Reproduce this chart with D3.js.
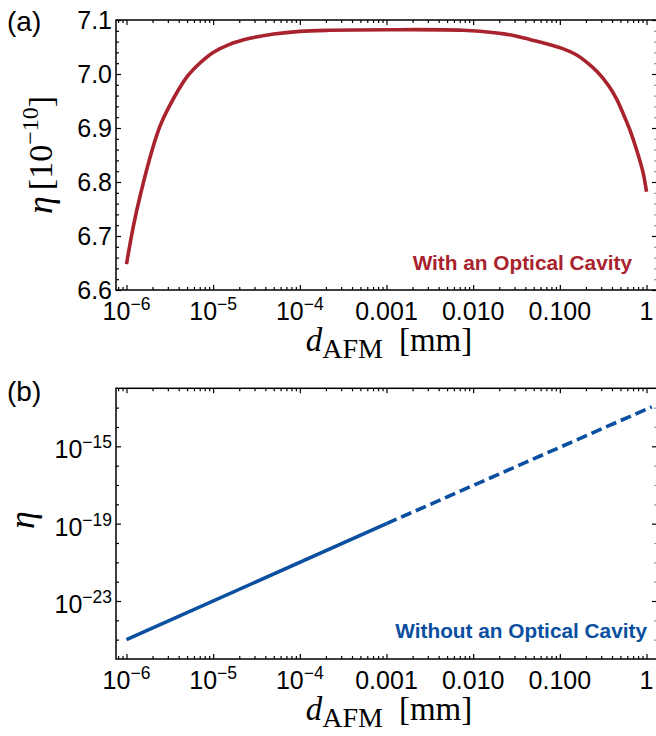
<!DOCTYPE html>
<html><head><meta charset="utf-8">
<script src="https://cdn.jsdelivr.net/npm/d3@7"></script>
<style>body{margin:0;background:#fff} svg{display:block}</style>
</head><body>
<svg id="c" width="656" height="736"></svg>
<script>
// ---- data ----
const dA   = [1e-6, 1.2e-6, 1.44e-6, 2e-6, 2.43e-6, 3e-6, 5e-6, 7e-6, 1e-5, 1.5e-5, 2.65e-5, 5e-5, 1e-4, 2.2e-4, 1e-3, 7.6e-3, 0.0188, 0.03, 0.045, 0.108, 0.153, 0.2, 0.267, 0.371, 0.454, 0.577, 0.641, 0.787, 0.914, 1.0];
const etaA = [6.648, 6.718, 6.775, 6.862, 6.903, 6.935, 6.995, 7.020, 7.040, 7.054, 7.066, 7.074, 7.079, 7.081, 7.082, 7.081, 7.076, 7.071, 7.064, 7.047, 7.036, 7.023, 7.005, 6.977, 6.953, 6.915, 6.897, 6.854, 6.817, 6.782];
const dBsolid   = [1e-6, 1e-3];
const etaBsolid = [1e-25, 1e-19];
const dBdash    = [1e-3, 1.15];
const etaBdash  = [1e-19, 1.1e-13];

const xMajorTicks  = [1e-6, 1e-5, 1e-4, 1e-3, 1e-2, 1e-1, 1];
const xTickBase    = ["10", "10", "10", "0.001", "0.010", "0.100", "1"];
const xTickExp     = ["−6", "−5", "−4", "", "", "", ""];
const yTicksA      = [6.6, 6.7, 6.8, 6.9, 7.0, 7.1];
const yTickLabelsA = ["6.6", "6.7", "6.8", "6.9", "7.0", "7.1"];
const yTicksB      = [1e-23, 1e-19, 1e-15];
const yTickBaseB   = ["10", "10", "10"];
const yTickExpB    = ["−23", "−19", "−15"];

const RED = "#a8232d", BLUE = "#0a4fa0";
const SANS = "'Liberation Sans', Arial, sans-serif";
const SERIF = "'Liberation Serif', 'Times New Roman', serif";

const svg = d3.select("#c");
const X0 = 116, X1 = 657;
const x = d3.scaleLog().domain([Math.pow(10, -6.121), Math.pow(10, 0.121)]).range([X0, X1]);

// minor x ticks
const xDom = x.domain();
const xMinor = [];
for (let e = -7; e <= 0; e++) for (let m = 2; m <= 9; m++) {
  const v = m * Math.pow(10, e);
  if (v >= xDom[0] && v <= xDom[1]) xMinor.push(v);
}

function frameTicks(top, bottom, y, yMaj, yMin) {
  const g = svg.append("g");
  const ax = (gen, tx, ty) => {
    const a = g.append("g").attr("transform", `translate(${tx},${ty})`).call(gen);
    a.select(".domain").remove();
    a.selectAll("line").attr("stroke", "#000").attr("stroke-width", 1.2);
    return a;
  };
  ax(d3.axisBottom(x).tickValues(xMajorTicks).tickSize(-5).tickFormat(""), 0, bottom);
  ax(d3.axisBottom(x).tickValues(xMinor).tickSize(-3).tickFormat(""), 0, bottom);
  ax(d3.axisTop(x).tickValues(xMajorTicks).tickSize(-5).tickFormat(""), 0, top);
  ax(d3.axisTop(x).tickValues(xMinor).tickSize(-3).tickFormat(""), 0, top);
  ax(d3.axisLeft(y).tickValues(yMaj).tickSize(-5).tickFormat(""), X0, 0);
  ax(d3.axisLeft(y).tickValues(yMin).tickSize(-3).tickFormat(""), X0, 0);
  ax(d3.axisRight(y).tickValues(yMaj).tickSize(-5).tickFormat(""), X1, 0);
  ax(d3.axisRight(y).tickValues(yMin).tickSize(-3).tickFormat(""), X1, 0)
    .selectAll("line").attr("stroke", "#999");
  g.append("rect").attr("x", X0).attr("y", top).attr("width", X1 - X0).attr("height", bottom - top)
    .attr("fill", "none").attr("stroke", "#000").attr("stroke-width", 1.5);

  // x tick labels
  xMajorTicks.forEach((v, i) => {
    const t = svg.append("text").attr("x", x(v)).attr("y", bottom + 30)
      .attr("text-anchor", "middle").attr("font-family", SANS).attr("font-size", 25);
    t.append("tspan").text(xTickBase[i]);
    if (xTickExp[i]) t.append("tspan").attr("font-size", 17.5).attr("dy", -10).text(xTickExp[i]);
  });
  // x title
  const tt = svg.append("text").attr("x", 389).attr("y", bottom + 61)
    .attr("text-anchor", "middle").attr("font-family", SERIF).attr("font-size", 33);
  tt.append("tspan").attr("font-style", "italic").text("d");
  tt.append("tspan").attr("font-size", 28).attr("dy", 7).text("AFM");
  tt.append("tspan").attr("dy", -7).attr("dx", 16).text("[mm]");
}

// ---------- Panel (a) ----------
const topA = 20, botA = 290;
const yA = d3.scaleLinear().domain([6.6, 7.1]).range([botA, topA]);
const yMinA = d3.range(6.62, 7.1, 0.02).filter(v => Math.abs(Math.round(v * 10) - v * 10) > 0.05);
frameTicks(topA, botA, yA, yTicksA, yMinA);

yTicksA.forEach((v, i) => {
  svg.append("text").attr("x", 112).attr("y", yA(v) + 9).attr("text-anchor", "end")
    .attr("font-family", SANS).attr("font-size", 25).text(yTickLabelsA[i]);
});

const lineA = d3.line().x((d, i) => x(dA[i])).y((d, i) => yA(etaA[i])).curve(d3.curveCatmullRom.alpha(0.5));
svg.append("path").attr("d", lineA(dA)).attr("fill", "none").attr("stroke", RED)
  .attr("stroke-width", 3.6);

svg.append("text").attr("x", 632).attr("y", 270).attr("text-anchor", "end")
  .attr("font-family", SANS).attr("font-weight", "bold").attr("font-size", 20.8)
  .attr("fill", RED).text("With an Optical Cavity");

// y title (a)
const ytA = svg.append("text").attr("transform", "translate(52,155) rotate(-90)")
  .attr("text-anchor", "middle").attr("font-family", SERIF).attr("font-size", 34);
ytA.append("tspan").attr("font-style", "italic").attr("font-size", 36).text("η");
ytA.append("tspan").attr("dx", 6).text("[10");
ytA.append("tspan").attr("font-size", 24).attr("dy", -14).text("−10");
ytA.append("tspan").attr("dy", 14).text("]");

svg.append("text").attr("x", 7).attr("y", 31).attr("font-family", SANS).attr("font-size", 28).text("(a)");

// ---------- Panel (b) ----------
const topB = 388.3, botB = 659;
const yB = d3.scaleLog().domain([1e-26, 1e-12]).range([botB, topB]);
const yMinB = d3.range(-25, -12).filter(e => ![-23, -19, -15].includes(e)).map(e => Math.pow(10, e));
frameTicks(topB, botB, yB, yTicksB, yMinB);

yTicksB.forEach((v, i) => {
  const t = svg.append("text").attr("x", 112).attr("y", yB(v) + 12).attr("text-anchor", "end")
    .attr("font-family", SANS).attr("font-size", 25);
  t.append("tspan").text(yTickBaseB[i]);
  t.append("tspan").attr("font-size", 17.5).attr("dy", -10).text(yTickExpB[i]);
});

const lineB = d3.line().x(d => x(d[0])).y(d => yB(d[1]));
svg.append("path").attr("d", lineB(dBsolid.map((d, i) => [d, etaBsolid[i]])))
  .attr("fill", "none").attr("stroke", BLUE).attr("stroke-width", 3.6);
svg.append("path").attr("d", lineB(dBdash.map((d, i) => [d, etaBdash[i]])))
  .attr("fill", "none").attr("stroke", BLUE).attr("stroke-width", 3.6)
  .attr("stroke-dasharray", "11,5");

svg.append("text").attr("x", 647).attr("y", 638).attr("text-anchor", "end")
  .attr("font-family", SANS).attr("font-weight", "bold").attr("font-size", 20.8)
  .attr("fill", BLUE).text("Without an Optical Cavity");

svg.append("text").attr("transform", "translate(34,520) rotate(-90)")
  .attr("text-anchor", "middle").attr("font-family", SERIF).attr("font-size", 36)
  .attr("font-style", "italic").text("η");

svg.append("text").attr("x", 7).attr("y", 401).attr("font-family", SANS).attr("font-size", 28).text("(b)");
</script>
</body></html>
